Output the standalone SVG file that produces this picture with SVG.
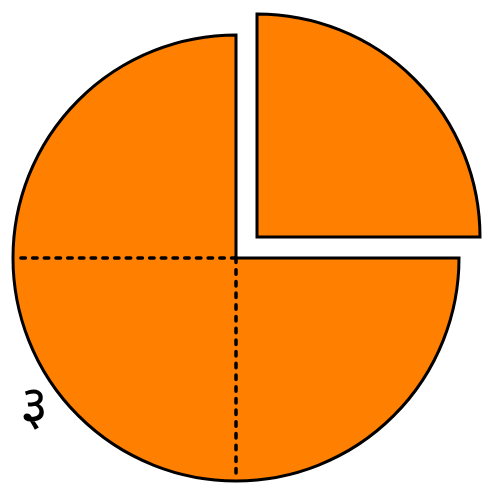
<svg xmlns="http://www.w3.org/2000/svg" width="500" height="500" viewBox="0 0 500 500">
<style>
.wedge{fill:#ff7f00;stroke:#000;stroke-width:3;stroke-linejoin:miter}
.div{fill:none;stroke:#000;stroke-width:3.5;stroke-linecap:round;stroke-dasharray:4.5 7.2}
.lbl{font-family:"Noto Sans","DejaVu Sans",sans-serif;font-size:54px;fill:#000}
</style>
<rect width="500" height="500" fill="#fff"/>
<g id="pie-main">
<path class="wedge" d="M236,258 L459,258 A223,223 0 1 1 236,35 Z"/>
</g>
<g id="pie-slice">
<path class="wedge" d="M257,237 L257,14 A223,223 0 0 1 480,237 Z"/>
</g>
<g id="connectors">
<line class="div" x1="236" y1="258" x2="14" y2="258"/>
<line class="div" x1="236" y1="258" x2="236" y2="480"/>
</g>
<g id="label">
<text class="lbl" x="20" y="424">३</text>
</g>
</svg>
